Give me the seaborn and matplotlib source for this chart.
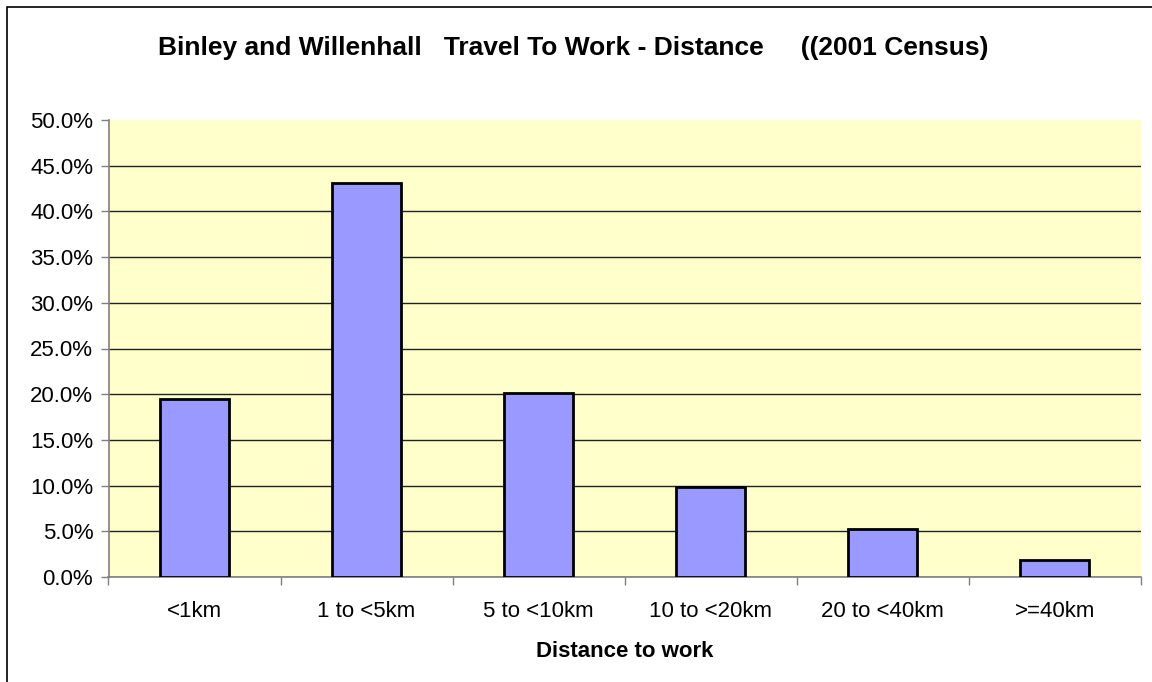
import matplotlib
matplotlib.use("Agg")
import matplotlib.pyplot as plt
import seaborn as sns
import pandas as pd
import numpy as np
from matplotlib.ticker import FuncFormatter, FixedLocator
from matplotlib.patches import Rectangle

categories = ["<1km", "1 to <5km", "5 to <10km", "10 to <20km", "20 to <40km", ">=40km"]
values = [19.5, 43.1, 20.1, 9.9, 5.3, 1.9]
yticks = [0, 5, 10, 15, 20, 25, 30, 35, 40, 45, 50]
title = "Binley and Willenhall   Travel To Work - Distance     ((2001 Census)"
xlabel = "Distance to work"

sns.set_style("white")
plt.rcParams['font.family'] = ['Liberation Sans', 'DejaVu Sans']
plt.rcParams['text.color'] = 'black'
plt.rcParams['xtick.labelcolor'] = 'black'
plt.rcParams['ytick.labelcolor'] = 'black'
plt.rcParams['axes.labelcolor'] = 'black'

df = pd.DataFrame({"cat": categories, "val": values})

fig = plt.figure(figsize=(11.52, 6.82), dpi=100)
ax = fig.add_axes([108.5/1152, 1-577/682, (1140.7-108.5)/1152, (577-120)/682])
ax.set_facecolor("#FFFFCC")

sns.barplot(data=df, x="cat", y="val", color="#9999FF", width=0.4,
            edgecolor="black", linewidth=2, saturation=1, ax=ax, zorder=3)

ax.set_ylim(0, 50)
ax.set_xlim(-0.5, len(categories)-0.5)
ax.yaxis.set_major_locator(FixedLocator(yticks))
ax.yaxis.set_major_formatter(FuncFormatter(lambda v, p: f"{v:.1f}%"))
ax.grid(axis="y", color="#222222", linewidth=1, zorder=0)
ax.set_axisbelow(True)
fig.canvas.draw()
gl = ax.yaxis.get_gridlines()
gl[-1].set_visible(False)

for s in ["top", "right"]:
    ax.spines[s].set_visible(False)
for s in ["left", "bottom"]:
    ax.spines[s].set_color("#808080")
    ax.spines[s].set_linewidth(1.2)

ax.tick_params(axis="y", which="major", length=6, width=1, color="#808080",
               labelsize=16, pad=5, left=True, direction="out")
ax.tick_params(axis="x", which="major", length=0, labelsize=16, pad=17)
ax.set_xticks(np.arange(-0.5, len(categories)), minor=True)
ax.tick_params(axis="x", which="minor", length=6, width=1, color="#808080", bottom=True, direction="out")

ax.set_xlabel(xlabel, fontsize=16, fontweight="bold", labelpad=14)
ax.set_ylabel("")

fig.text(573/1152, 1-48/682, title, fontsize=19, fontweight="bold", ha="center", va="center")

fig.patches.append(Rectangle((7/1152, -0.1), 1.2, 1-7/682+0.1, transform=fig.transFigure,
                             fill=False, edgecolor="black", linewidth=1.2, figure=fig))

fig.savefig("out.png", dpi=100, facecolor="white")
